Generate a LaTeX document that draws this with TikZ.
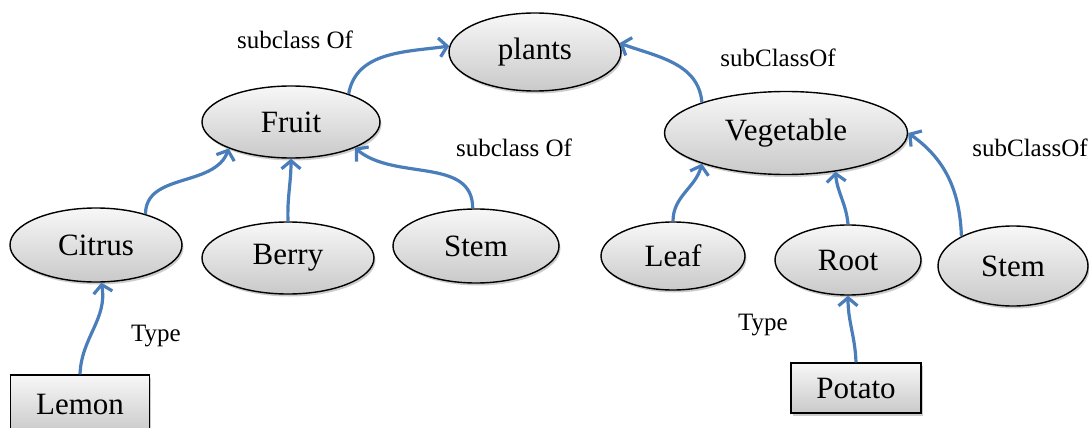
\documentclass[tikz,border=0pt]{standalone}
\usepackage{fontspec}
\setmainfont{Liberation Serif}
\usepackage{tikz}
\usetikzlibrary{arrows.meta,shapes.geometric,shadows}
\definecolor{linkblue}{RGB}{74,126,187}
\newcommand{\conceptfont}{\fontsize{31}{36}\selectfont}
\newcommand{\relfont}{\fontsize{25}{30}\selectfont}

\begin{document}
\begin{tikzpicture}[
  x=1pt,y=-1pt,
  >={Straight Barb[length=8pt,width=19pt]},
  concept/.style={ellipse,draw,line width=1.4pt,inner sep=0pt,top color=gray!6,bottom color=gray!42,
    drop shadow={shadow xshift=1.5pt,shadow yshift=-2.5pt,opacity=.2,fill=black},font=\conceptfont},
  inst/.style={rectangle,draw,line width=1.4pt,inner sep=0pt,top color=gray!6,bottom color=gray!42,
    drop shadow={shadow xshift=1.5pt,shadow yshift=-2.5pt,opacity=.2,fill=black},font=\conceptfont},
  rel/.style={font=\relfont,inner sep=0pt},
  link/.style={->,draw=linkblue,line width=3.2pt}
]
\useasboundingbox (0,0) rectangle (1089,428);
% classes
\node[concept,minimum width=172pt,minimum height=78pt] (plants) at (535,52) {plants};
\node[concept,minimum width=178pt,minimum height=72pt] (fruit) at (291,122) {Fruit};
\node[concept,minimum width=243pt,minimum height=83pt] (veg) at (786,133) {Vegetable};
\node[concept,minimum width=172pt,minimum height=74pt] (citrus) at (96,245) {Citrus};
\node[concept,minimum width=172pt,minimum height=72pt] (berry) at (288,258) {Berry};
\node[concept,minimum width=166pt,minimum height=74pt] (stemf) at (476,246) {Stem};
\node[concept,minimum width=144pt,minimum height=68pt] (leaf) at (673,256) {Leaf};
\node[concept,minimum width=146pt,minimum height=70pt] (root) at (848,260) {Root};
\node[concept,minimum width=150pt,minimum height=80pt] (stemv) at (1013,266) {Stem};
% individuals
\node[inst,minimum width=139pt,minimum height=58pt] (lemon) at (80,404) {Lemon};
\node[inst,minimum width=130pt,minimum height=50pt] (potato) at (856,388) {Potato};
% relation names
\node[rel] (r1) at (295,40) {subclass Of};
\node[rel] (r2) at (778,58) {subClassOf};
\node[rel] (r3) at (514,148) {subclass Of};
\node[rel] (r4) at (1030,148) {subClassOf};
\node[rel] (t1) at (156,336) {Type};
\node[rel] (t2) at (763,325) {Type};
% subclass links
\draw[link] (fruit.26) to[out=80,in=188] (plants.176);
\draw[link] (veg.160) to[out=95,in=-20] (plants.6);
\draw[link] (citrus.32) to[out=90,in=-110] (fruit.-157);
\draw[link] (berry.north) to[out=92,in=-90] (fruit.south);
\draw[link] (stemf.95) to[out=90,in=-40] (fruit.-22);
\draw[link] (leaf.north) to[out=90,in=-105] (veg.-160);
\draw[link] (root.north) to[out=95,in=-85] (veg.-38);
\draw[link] (stemv.150) to[out=92,in=-35] (veg.east);
% type links
\draw[link] (lemon.north) to[out=88,in=-80] (citrus.-82);
\draw[link] (potato.north) to[out=92,in=-90] (root.south);
\end{tikzpicture}
\end{document}
